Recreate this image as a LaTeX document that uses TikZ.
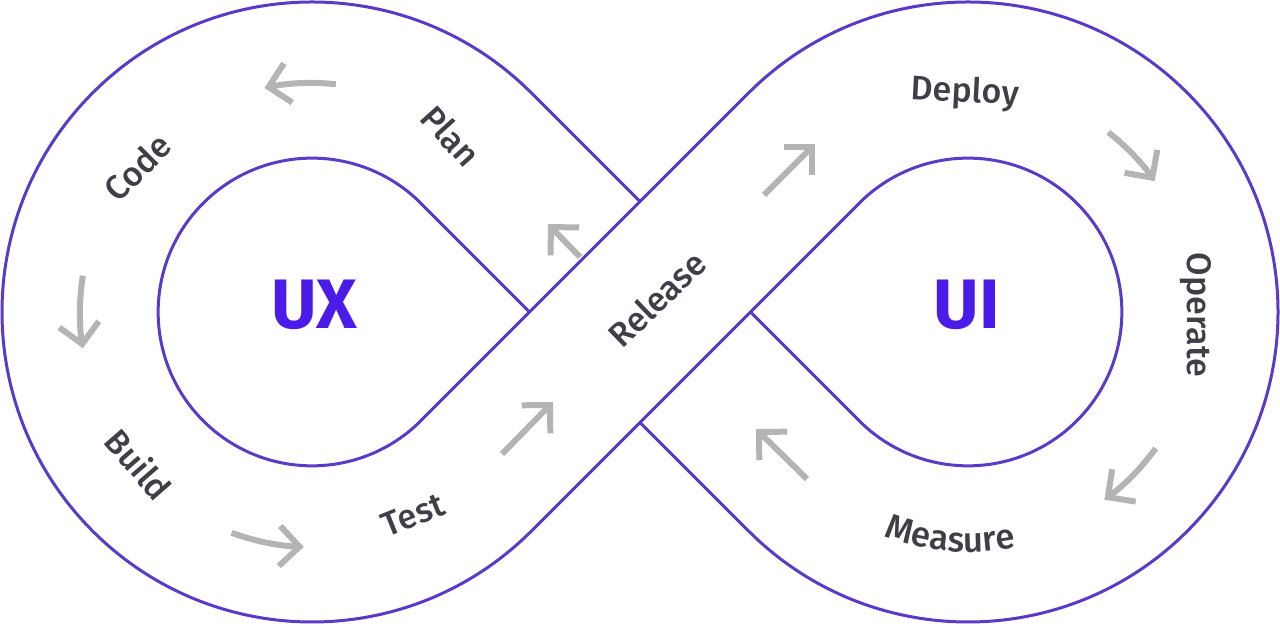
\documentclass[tikz,border=0pt]{standalone}
\usepackage{fontspec}
\setmainfont{Fira Sans}
\newfontfamily\lblfont{Fira Sans Medium}
\usetikzlibrary{arrows.meta,decorations.text}
\definecolor{loopc}{HTML}{5A3BC8}
\definecolor{brand}{HTML}{4B1BE9}
\definecolor{txt}{HTML}{3F3F47}
\definecolor{arr}{HTML}{B4B4B4}
\begin{document}
\begin{tikzpicture}[x=0.5pt,y=0.5pt,
  band/.style={draw=loopc,line width=1.5pt,line join=round},
  flow/.style={draw=arr,line width=3pt,-{Straight Barb[length=10pt,width=20pt]}},
  lbl/.style={font=\lblfont\fontsize{17}{20}\selectfont, text=txt, inner sep=0pt},
  big/.style={font=\bfseries\fontsize{35}{42}\selectfont, text=brand, inner sep=0pt}]
\useasboundingbox (0,0) rectangle (1280,624);
\coordinate (L) at (312,312);
\coordinate (R) at (968,312);
% loop outlines
\draw[band] (640,422.4) -- (531.2,531.2) arc[start angle=45,end angle=315,radius=310]
  -- (859.2,420.8) arc[start angle=135,end angle=-135,radius=153.86] -- (750.4,312);
\draw[band] (529.6,312) -- (420.8,420.8) arc[start angle=45,end angle=315,radius=153.86]
  -- (748.8,531.2) arc[start angle=135,end angle=-135,radius=310] -- (640,201.6);
% labels
\node[big] (ux) at (314,319) {UX};
\node[big] (ui) at (967,319) {UI};
\node[lbl, rotate=45] (code) at (137.5,457) {Code};
\node[lbl, rotate=-48] (plan) at (451,488) {Plan};
\node[lbl, rotate=-49] (build) at (139,160) {Build};
\node[lbl, rotate=22] (test) at (413,109) {Test};
\node[lbl, rotate=44] (release) at (657,325) {Release};
\node[lbl, rotate=-3] (deploy) at (965,531) {Deploy};
\node[lbl, rotate=-90] (operate) at (1196,309) {Operate};
\path[decorate, decoration={text along path, text align=center, text color=txt,
  text={|\lblfont\fontsize{17.5}{20}\selectfont|Measure}}]
  (R) ++(235.5:240) arc[start angle=235.5,end angle=295.5,radius=240];
% straight arrows
\coordinate (a1s) at (502,170); \coordinate (a1e) at (553,222);
\coordinate (a2s) at (580,367); \coordinate (a2e) at (548,400);
\coordinate (a3s) at (764,429); \coordinate (a3e) at (815,480);
\coordinate (a4s) at (807,145); \coordinate (a4e) at (756,195);
\draw[flow] (a1s) -- (a1e);
\draw[flow] (a2s) -- (a2e);
\draw[flow] (a3s) -- (a3e);
\draw[flow] (a4s) -- (a4e);
% curved arrows
\draw[flow] (L) ++(84:229) arc[start angle=84,end angle=102,radius=229];
\draw[flow] (L) ++(171:232) arc[start angle=171,end angle=189,radius=232];
\draw[flow] (L) ++(250:235) arc[start angle=250,end angle=268,radius=235];
\draw[flow] (R) ++(52:228) arc[start angle=52,end angle=35,radius=228];
\draw[flow] (R) ++(-36:232) arc[start angle=-36,end angle=-54,radius=232];
\end{tikzpicture}
\end{document}
